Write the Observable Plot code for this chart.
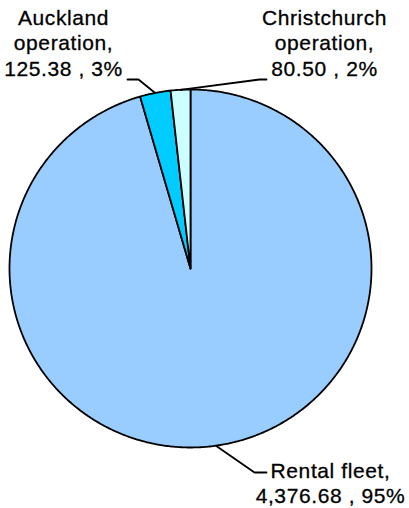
<!DOCTYPE html>
<html>
<head>
<meta charset="utf-8">
<script src="https://cdn.jsdelivr.net/npm/d3@7"></script>
<script src="https://cdn.jsdelivr.net/npm/@observablehq/plot@0.6"></script>
<style>
  html, body { margin: 0; padding: 0; background: #fff; }
</style>
</head>
<body>
<div id="chart"></div>
<script>
// ---- data ----
const categories = ["Rental fleet", "Auckland operation", "Christchurch operation"];
const values = [4376.68, 125.38, 80.50];
const valueLabels = ["4,376.68", "125.38", "80.50"];
const percentLabels = ["95%", "3%", "2%"];
const colors = ["#99CCFF", "#00CCFF", "#CCFFFF"];

// ---- layout (pixels) ----
const W = 409, H = 508;
const cx = 190, cy = 268, rx = 181, ry = 179;
const px2x = (px) => (px - cx) / rx;
const py2y = (py) => (cy - py) / ry;
// label placement: [text center x, text top y], leader [elbow, end]
const labelLayout = [
  {tx: 330, ty: 459, elbow: [254, 472], end: [266, 472]},
  {tx: 63, ty: 6, elbow: [138, 79], end: [127, 79]},
  {tx: 324, ty: 6, elbow: [259, 79], end: [266, 79]}
];

// ---- geometry from data ----
const arcs = d3.pie().sort(null)(values);
const polar = (a, r = 1) => [r * Math.sin(a), r * Math.cos(a)];

const slicePts = [];
arcs.forEach((a, i) => {
  const name = categories[i];
  slicePts.push({name, x: 0, y: 0});
  const n = Math.max(2, Math.ceil((a.endAngle - a.startAngle) / (Math.PI / 360)));
  for (let k = 0; k <= n; k++) {
    const t = a.startAngle + (a.endAngle - a.startAngle) * k / n;
    const [x, y] = polar(t);
    slicePts.push({name, x, y});
  }
  slicePts.push({name, x: 0, y: 0});
});

const leaderPts = [];
const labels = [];
arcs.forEach((a, i) => {
  const name = categories[i];
  const L = labelLayout[i];
  const mid = (a.startAngle + a.endAngle) / 2;
  const [ex, ey] = polar(mid);
  leaderPts.push({name, x: ex, y: ey});
  leaderPts.push({name, x: px2x(L.elbow[0]), y: py2y(L.elbow[1])});
  leaderPts.push({name, x: px2x(L.end[0]), y: py2y(L.end[1])});
  labels.push({
    name,
    x: px2x(L.tx),
    y: py2y(L.ty),
    text: name.replace(" operation", "\noperation") + ",\n" + valueLabels[i] + " , " + percentLabels[i]
  });
});

const chart = Plot.plot({
  width: W,
  height: H,
  marginLeft: cx - rx,
  marginRight: W - (cx + rx),
  marginTop: cy - ry,
  marginBottom: H - (cy + ry),
  x: {domain: [-1, 1], axis: null},
  y: {domain: [-1, 1], axis: null},
  color: {domain: categories, range: colors},
  style: {background: "#fff", letterSpacing: "0.6px", overflow: "visible"},
  marks: [
    Plot.line(slicePts, {x: "x", y: "y", z: "name", fill: "name", stroke: "#000", strokeWidth: 1.8, curve: "linear", strokeLinejoin: "round"}),
    Plot.line(leaderPts, {x: "x", y: "y", z: "name", stroke: "#000", strokeWidth: 1.8, curve: "linear"}),
    Plot.text(labels, {
      x: "x", y: "y", text: "text",
      lineAnchor: "top", textAnchor: "middle",
      lineHeight: 1.22,
      fontSize: 21,
      fontFamily: "Liberation Sans, Arial, sans-serif",
      fill: "#000",
      stroke: "#000",
      strokeWidth: 0.3
    })
  ]
});
document.getElementById("chart").appendChild(chart);
</script>
</body>
</html>
